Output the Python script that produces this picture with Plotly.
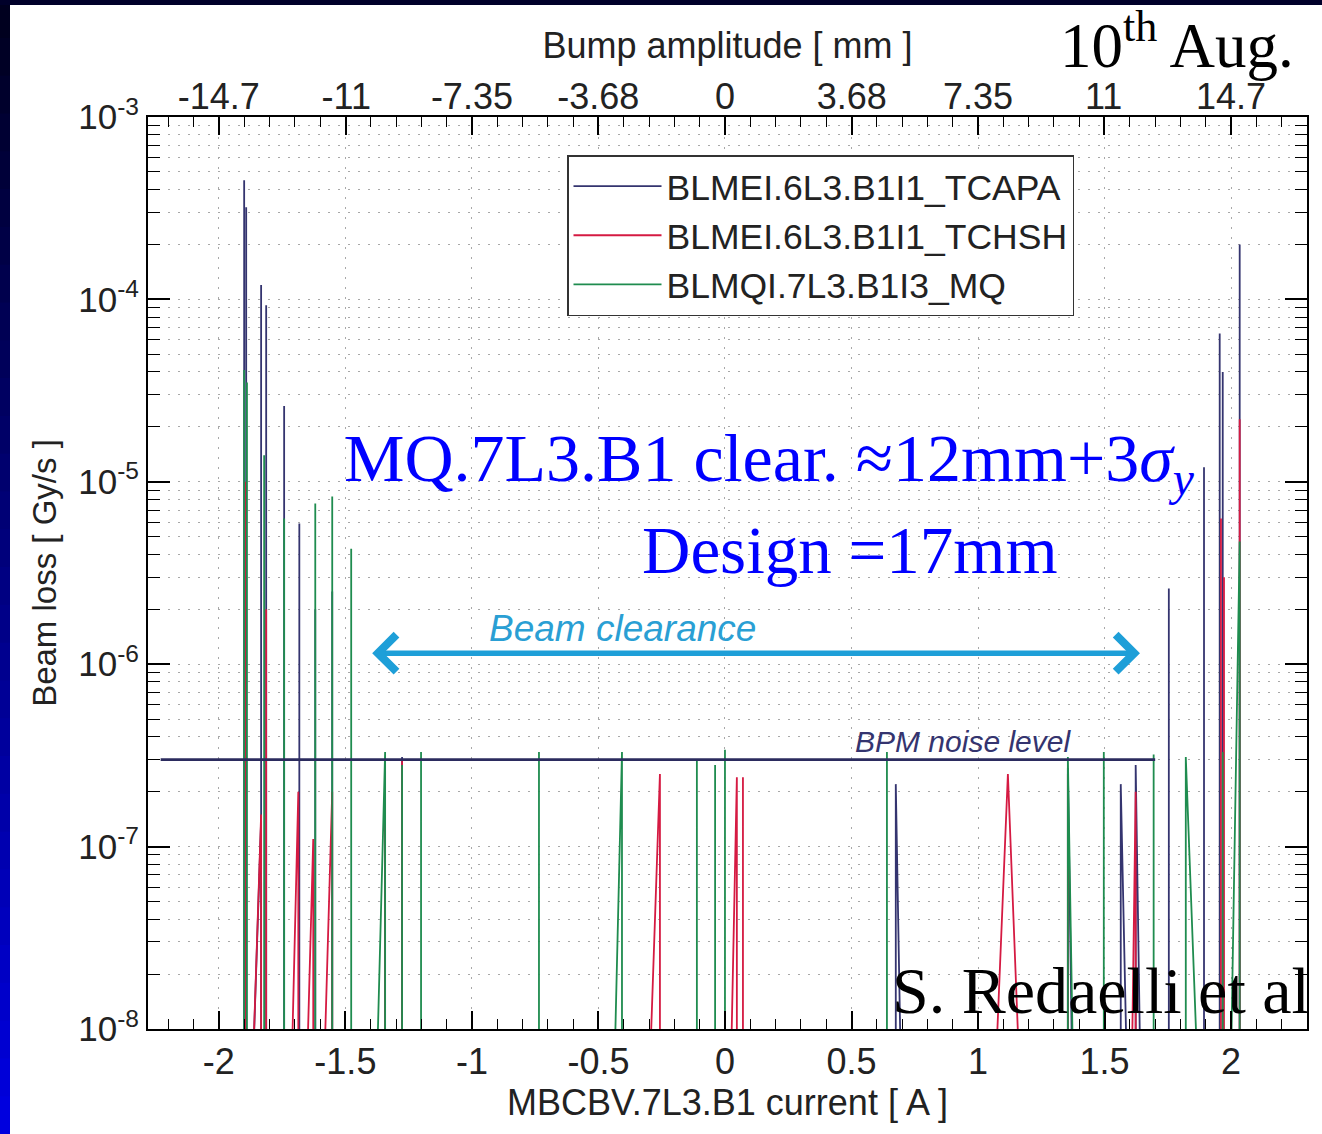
import plotly.graph_objects as go
import math

# ---------------- data ----------------
FLOOR = 1e-9  # readings below the plotted range

series_names = ["BLMEI.6L3.B1I1_TCAPA", "BLMEI.6L3.B1I1_TCHSH", "BLMQI.7L3.B1I3_MQ"]
series_colors = ["#34346f", "#d51a42", "#1f8c4f"]

tcapa_current = [-1.910,
    -1.900, -1.900, -1.900,
    -1.892, -1.892, -1.892,
    -1.884, -1.833, -1.833, -1.833,
    -1.813, -1.813, -1.813,
    -1.742, -1.742, -1.742,
    -1.682, -1.682, -1.682,
    -1.619, -1.619, -1.619,
    -1.552, -1.552, -1.552,
    -1.343, -1.343, -1.343,
    -1.276, -1.276, -1.276,
    0.675, 0.675, 0.705,
    1.355, 1.355, 1.380,
    1.564, 1.564, 1.600,
    1.623, 1.623, 1.650,
    1.754, 1.754, 1.754,
    1.893, 1.893, 1.893,
    1.955, 1.955, 1.955,
    1.967, 1.967, 1.967,
    2.034, 2.034, 2.034, 2.100]
tcapa_loss = [FLOOR,
    FLOOR, 4.5e-4, FLOOR,
    FLOOR, 3.2e-4, FLOOR,
    FLOOR, 1.4e-7, 1.2e-4, FLOOR,
    FLOOR, 9.3e-5, FLOOR,
    FLOOR, 2.6e-5, FLOOR,
    FLOOR, 5.9e-6, FLOOR,
    FLOOR, 2.0e-6, FLOOR,
    FLOOR, 2.5e-6, FLOOR,
    FLOOR, 2.9e-7, FLOOR,
    FLOOR, 3.1e-7, FLOOR,
    FLOOR, 2.2e-7, FLOOR,
    FLOOR, 2.7e-7, FLOOR,
    FLOOR, 2.2e-7, FLOOR,
    FLOOR, 2.8e-7, FLOOR,
    FLOOR, 2.6e-6, FLOOR,
    FLOOR, 1.2e-5, FLOOR,
    FLOOR, 6.5e-5, FLOOR,
    FLOOR, 4.0e-5, FLOOR,
    FLOOR, 2.0e-4, FLOOR, FLOOR]

tchsh_current = [-1.910,
    -1.896, -1.896, -1.896,
    -1.884, -1.833, -1.833,
    -1.813, -1.813, -1.813,
    -1.726, -1.686, -1.686,
    -1.667, -1.627, -1.627,
    -1.600, -1.552, -1.552,
    -1.343, -1.343, -1.343,
    -1.276, -1.276, -1.276,
    -0.316, -0.257, -0.257,
    0.012, 0.047, 0.047,
    0.071, 0.071, 0.071,
    1.047, 1.118, 1.185,
    1.355, 1.355, 1.355,
    1.600, 1.623, 1.623,
    1.960, 1.960, 1.960,
    1.972, 1.972, 1.972,
    2.034, 2.034, 2.034, 2.100]
tchsh_loss = [FLOOR,
    FLOOR, 1.0e-5, FLOOR,
    FLOOR, 1.5e-7, FLOOR,
    FLOOR, 2.0e-6, FLOOR,
    FLOOR, 2.0e-7, FLOOR,
    FLOOR, 1.1e-7, FLOOR,
    FLOOR, 2.0e-7, FLOOR,
    FLOOR, 2.6e-7, FLOOR,
    FLOOR, 3.0e-7, FLOOR,
    FLOOR, 2.5e-7, FLOOR,
    FLOOR, 2.4e-7, FLOOR,
    FLOOR, 2.4e-7, FLOOR,
    FLOOR, 2.5e-7, FLOOR,
    FLOOR, 2.5e-7, FLOOR,
    FLOOR, 2.0e-7, FLOOR,
    FLOOR, 6.3e-6, FLOOR,
    FLOOR, 3.0e-6, FLOOR,
    FLOOR, 2.2e-5, FLOOR, FLOOR]

mq_current = [-1.910,
    -1.900, -1.900, -1.900,
    -1.889, -1.889, -1.889,
    -1.821, -1.821, -1.821,
    -1.742, -1.742, -1.742,
    -1.619, -1.619, -1.619,
    -1.552, -1.552, -1.552,
    -1.477, -1.477, -1.477,
    -1.390, -1.343, -1.343,
    -1.276, -1.276, -1.276,
    -1.201, -1.201, -1.201,
    -0.735, -0.735, -0.735,
    -0.450, -0.407, -0.407,
    -0.111, -0.111, -0.111,
    -0.039, -0.039, -0.039,
    0.000, 0.000, 0.000,
    0.640, 0.640, 0.640,
    1.355, 1.355, 1.385,
    1.497, 1.497, 1.497,
    1.694, 1.694, 1.694,
    1.821, 1.821, 1.888,
    1.967, 1.967, 1.967,
    1.990, 2.034, 2.034, 2.100]
mq_loss = [FLOOR,
    FLOOR, 4.1e-5, FLOOR,
    FLOOR, 3.5e-5, FLOOR,
    FLOOR, 1.4e-5, FLOOR,
    FLOOR, 6.3e-6, FLOOR,
    FLOOR, 7.6e-6, FLOOR,
    FLOOR, 8.3e-6, FLOOR,
    FLOOR, 4.3e-6, FLOOR,
    FLOOR, 3.3e-7, FLOOR,
    FLOOR, 2.8e-7, FLOOR,
    FLOOR, 3.3e-7, FLOOR,
    FLOOR, 3.3e-7, FLOOR,
    FLOOR, 3.3e-7, FLOOR,
    FLOOR, 3.0e-7, FLOOR,
    FLOOR, 2.8e-7, FLOOR,
    FLOOR, 3.4e-7, FLOOR,
    FLOOR, 3.3e-7, FLOOR,
    FLOOR, 3.1e-7, FLOOR,
    FLOOR, 3.3e-7, FLOOR,
    FLOOR, 3.2e-7, FLOOR,
    FLOOR, 3.1e-7, FLOOR,
    FLOOR, 3.3e-7, FLOOR,
    FLOOR, 4.7e-6, FLOOR, FLOOR]

noise_current = [-2.23, 1.70]
noise_level = [3.0e-7, 3.0e-7]

clearance_current = [-1.40, 1.64]
clearance_level = 1.15e-6

current_ticks = [-2, -1.5, -1, -0.5, 0, 0.5, 1, 1.5, 2]
current_labels = ["-2", "-1.5", "-1", "-0.5", "0", "0.5", "1", "1.5", "2"]
mm_per_amp = 7.35
bump_mm = [-14.7, -11, -7.35, -3.68, 0, 3.68, 7.35, 11, 14.7]
bump_labels = ["-14.7", "-11", "-7.35", "-3.68", "0", "3.68", "7.35", "11", "14.7"]
loss_decades = [-8, -7, -6, -5, -4, -3]
loss_minor_digits = [2, 3, 4, 5, 6, 7, 8, 9]
x_range = [-2.28, 2.30]

# ---------------- figure ----------------
fig = go.Figure()
for name, color, xs, ys in zip(series_names, series_colors,
                               [tcapa_current, tchsh_current, mq_current],
                               [tcapa_loss, tchsh_loss, mq_loss]):
    fig.add_trace(go.Scatter(x=xs, y=ys, mode="lines", name=name,
                             line=dict(color=color, width=1.8, simplify=False),
                             hoverinfo="skip"))

fig.add_trace(go.Scatter(x=noise_current, y=noise_level, mode="lines",
                         xaxis="x2", yaxis="y", showlegend=False,
                         line=dict(color="#2b2b5e", width=2.8), hoverinfo="skip"))

FAM = "Liberation Sans, Arial, sans-serif"
X_FONT = dict(family=FAM, size=36, color="#222222")
Y_FONT = dict(family=FAM, size=35, color="#222222")
GRID = "#a8a8a8"
GDASH = "2px,8px"

# pixel -> paper helpers (plot area spans x 148..1307, y 117..1029)
W_PLOT, H_PLOT, L, B = 1159.0, 912.0, 148.0, 1029.0
def px(xpix):
    return (xpix - L) / W_PLOT
def py(ypix):
    return (B - ypix) / H_PLOT

fig.update_layout(
    width=1322, height=1134,
    margin=dict(l=148, r=15, t=117, b=105),
    paper_bgcolor="white", plot_bgcolor="white",
    font=X_FONT,
    xaxis=dict(
        range=x_range, tickmode="array", tickvals=current_ticks, ticktext=current_labels,
        ticks="inside", ticklen=18, tickwidth=1.5, tickcolor="black",
        showline=True, linecolor="black", linewidth=2, mirror=True,
        showgrid=True, gridcolor=GRID, griddash=GDASH, gridwidth=1, zeroline=False,
        minor=dict(dtick=0.1, tick0=0, ticks="inside", ticklen=10, tickwidth=1.2,
                   tickcolor="black", showgrid=False),
        tickfont=X_FONT, ticklabelstandoff=0,
        title=dict(text="MBCBV.7L3.B1 current [ A ]", font=X_FONT, standoff=0),
    ),
    xaxis2=dict(
        overlaying="x", side="top", range=x_range, tickmode="array",
        tickvals=[b / mm_per_amp for b in bump_mm], ticktext=bump_labels,
        ticks="inside", ticklen=18, tickwidth=1.5, tickcolor="black",
        showline=False, showgrid=False, zeroline=False,
        minor=dict(dtick=0.1, tick0=0, ticks="inside", ticklen=10, tickwidth=1.2,
                   tickcolor="black", showgrid=False),
        tickfont=X_FONT,
        title=dict(text="Bump amplitude [ mm ]", font=X_FONT, standoff=6),
    ),
    yaxis=dict(
        type="log", range=[-8, -3], tickmode="array",
        tickvals=[10.0 ** d for d in loss_decades],
        ticktext=["10<sup>%d</sup>" % d for d in loss_decades],
        ticks="inside", ticklen=22, tickwidth=1.5, tickcolor="black",
        showline=True, linecolor="black", linewidth=2, mirror="ticks",
        showgrid=True, gridcolor=GRID, griddash=GDASH, gridwidth=1, zeroline=False,
        minor=dict(tickmode="array",
                   tickvals=[k * 10.0 ** d for d in loss_decades[:-1] for k in loss_minor_digits],
                   ticks="inside", ticklen=12, tickwidth=1.2, tickcolor="black",
                   showgrid=True, gridcolor=GRID, griddash=GDASH, gridwidth=1),
        tickfont=Y_FONT,
        title=dict(text="Beam loss [ Gy/s ]", font=dict(family=FAM, size=33, color="#222222"), standoff=12),
    ),
    legend=dict(x=px(567), y=py(155), xanchor="left", yanchor="top",
                bgcolor="white", bordercolor="#333333", borderwidth=1.5,
                font=dict(family=FAM, size=35.5, color="#222222"),
                itemwidth=88, tracegroupgap=0, entrywidth=518, entrywidthmode="pixels"),
)

# slide border (gradient strip on the left, dark strip on top)
shapes = []
nb = 30
for i in range(nb):
    y0p, y1p = 1134 * i / nb, 1134 * (i + 1) / nb + 1
    t = (i + 0.5) / nb
    blue = int(0x1c + (0xe2 - 0x1c) * t)
    shapes.append(dict(type="rect", xref="paper", yref="paper",
                       x0=px(-2), x1=px(10), y0=py(y1p), y1=py(y0p),
                       fillcolor="rgb(0,0,%d)" % blue, line=dict(width=0)))
shapes.append(dict(type="rect", xref="paper", yref="paper",
                   x0=px(-2), x1=px(1330), y0=py(5), y1=py(-2),
                   fillcolor="#00002a", line=dict(width=0)))
fig.update_layout(shapes=shapes)

ann = []
ly = math.log10(clearance_level)
ann.append(dict(x=clearance_current[1], y=ly, ax=clearance_current[0], ay=ly,
                xref="x", yref="y", axref="x", ayref="y", text="", showarrow=True,
                arrowhead=4, startarrowhead=4, arrowside="end+start",
                arrowsize=1.3, startarrowsize=1.3, arrowwidth=5.5, arrowcolor="#1e9fd8"))
ann.append(dict(x=px(622), y=py(628), xref="paper", yref="paper", showarrow=False,
                text="<i>Beam clearance</i>", xanchor="center", yanchor="middle",
                font=dict(family=FAM, size=37, color="#2a9fd4")))
ann.append(dict(x=px(963), y=py(741), xref="paper", yref="paper", showarrow=False,
                text="<i>BPM noise level</i>", xanchor="center", yanchor="middle",
                font=dict(family=FAM, size=30, color="#34346f")))
SERIF = "Liberation Serif, Times New Roman, serif"
ann.append(dict(x=px(769), y=py(462), xref="paper", yref="paper", showarrow=False,
                text="MQ.7L3.B1 clear. ≈12mm+3<i>σ</i><sub><i>y</i></sub>",
                xanchor="center", yanchor="middle",
                font=dict(family=SERIF, size=68, color="#0000ff")))
ann.append(dict(x=px(850), y=py(550), xref="paper", yref="paper", showarrow=False,
                text="Design =17mm", xanchor="center", yanchor="middle",
                font=dict(family=SERIF, size=67, color="#0000ff")))
ann.append(dict(x=px(1058), y=py(41), xref="paper", yref="paper", showarrow=False,
                text="10<sup>th</sup> Aug.", xanchor="left", yanchor="middle",
                font=dict(family=SERIF, size=63, color="black")))
ann.append(dict(x=px(890), y=py(990), xref="paper", yref="paper", showarrow=False,
                text="S. Redaelli et al", xanchor="left", yanchor="middle",
                font=dict(family=SERIF, size=66, color="black")))
fig.update_layout(annotations=ann)

fig.write_html("out.html")
